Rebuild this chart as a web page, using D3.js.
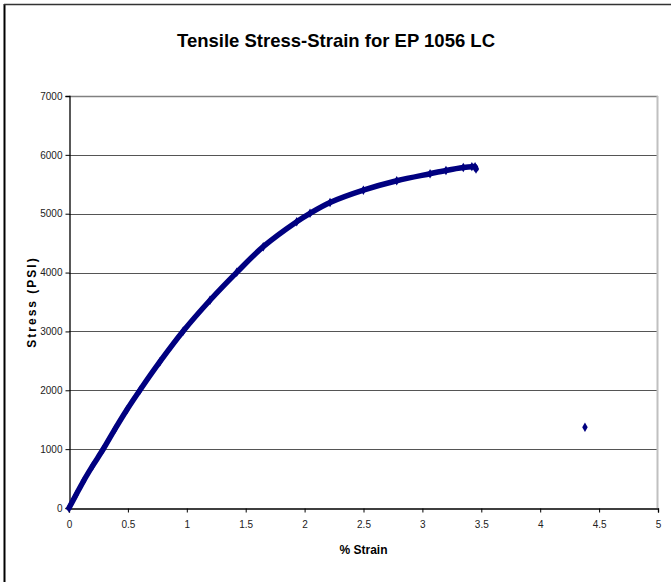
<html>
<head>
<script src="https://d3js.org/d3.v7.min.js"></script>
<style>
  body { margin: 0; background: #fff; }
  svg { display: block; font-family: "Liberation Sans", Arial, sans-serif; }
</style>
</head>
<body>
<svg id="svg" width="671" height="582"></svg>
<script>
// values
var strain = [0, 0.06, 0.122, 0.2, 0.291, 0.39, 0.49, 0.603, 0.772, 0.97, 1.197, 1.424,
              1.649, 1.933, 2.046, 2.216, 2.499, 2.782, 3.065, 3.2, 3.347, 3.42, 3.447, 3.455];
var stress = [0, 225, 454, 715, 1002, 1340, 1665, 2005, 2486, 3007, 3530, 4004,
              4440, 4864, 5006, 5190, 5400, 5560, 5680, 5735, 5785, 5800, 5799, 5760];
var outlierStrain = [4.38];
var outlierStress = [1370];

var xTicks = [0, 0.5, 1, 1.5, 2, 2.5, 3, 3.5, 4, 4.5, 5];
var yTicks = [0, 1000, 2000, 3000, 4000, 5000, 6000, 7000];

var svg = d3.select("svg");
var pLeft = 69, pRight = 658, pTop = 96, pBottom = 508;

var x = d3.scaleLinear().domain([0, 5]).range([pLeft, pRight]);
var y = d3.scaleLinear().domain([0, 7000]).range([pBottom, pTop]);

// chart frame (right and bottom run off the page)
svg.append("line").attr("x1", 4.5).attr("y1", 4).attr("x2", 4.5).attr("y2", 582)
    .attr("stroke", "#000").attr("stroke-width", 2);
svg.append("line").attr("x1", 4).attr("y1", 4.5).attr("x2", 671).attr("y2", 4.5)
    .attr("stroke", "#333").attr("stroke-width", 1.5);

svg.append("text").attr("x", 336).attr("y", 47).attr("text-anchor", "middle")
    .attr("font-size", 18.5).attr("font-weight", "bold")
    .text("Tensile Stress-Strain for EP 1056 LC");

// gridlines
svg.append("g").selectAll("line").data(yTicks.slice(1, -1)).enter().append("line")
    .attr("x1", pLeft).attr("x2", pRight)
    .attr("y1", function(d){ return Math.round(y(d)) + 0.5; })
    .attr("y2", function(d){ return Math.round(y(d)) + 0.5; })
    .attr("stroke", "#555").attr("stroke-width", 1);

// plot area top / right border
svg.append("line").attr("x1", pLeft).attr("x2", pRight).attr("y1", pTop + 0.5).attr("y2", pTop + 0.5)
    .attr("stroke", "#808080").attr("stroke-width", 1.5);
svg.append("line").attr("x1", pRight - 0.5).attr("x2", pRight - 0.5).attr("y1", pTop).attr("y2", pBottom)
    .attr("stroke", "#c0c0c0").attr("stroke-width", 2);

var xAxis = svg.append("g").attr("transform", "translate(0," + (pBottom + 0.5) + ")")
    .call(d3.axisBottom(x).tickValues(xTicks).tickSize(4).tickPadding(8).tickFormat(d3.format("")));
var yAxis = svg.append("g").attr("transform", "translate(" + (pLeft + 0.5) + ",0)")
    .call(d3.axisLeft(y).tickValues(yTicks).tickSize(4).tickPadding(3).tickFormat(d3.format("")));

[xAxis, yAxis].forEach(function(a){
    a.select(".domain").attr("stroke", "#000").attr("stroke-width", 1.3);
    a.selectAll(".tick line").attr("stroke", "#000");
    a.selectAll(".tick text").attr("font-size", 10).attr("fill", "#222")
        .attr("font-family", "'Liberation Sans', Arial, sans-serif");
});

svg.append("text").attr("x", (pLeft + pRight) / 2).attr("y", 554).attr("text-anchor", "middle")
    .attr("font-size", 12).attr("font-weight", "bold").text("% Strain");

svg.append("text").attr("transform", "translate(36," + ((pTop + pBottom) / 2) + ") rotate(-90)")
    .attr("text-anchor", "middle").attr("font-size", 12).attr("font-weight", "bold")
    .attr("letter-spacing", 2).text("Stress (PSI)");

// data band
var pts = strain.map(function(s, i){ return [s, stress[i]]; });
var line = d3.line().x(function(d){ return x(d[0]); }).y(function(d){ return y(d[1]); })
    .curve(d3.curveCatmullRom.alpha(0.5));
svg.append("path").attr("d", line(pts)).attr("fill", "none")
    .attr("stroke", "#000080").attr("stroke-width", 5.5).attr("stroke-linecap", "round");

var diamond = d3.symbol().type(d3.symbolDiamond).size(26);
svg.append("g").selectAll("path").data(pts).enter().append("path")
    .attr("d", diamond)
    .attr("transform", function(d){ return "translate(" + x(d[0]) + "," + y(d[1]) + ")"; })
    .attr("fill", "#000080");

svg.append("g").selectAll("path").data(outlierStrain).enter().append("path")
    .attr("d", diamond)
    .attr("transform", function(d, i){ return "translate(" + x(d) + "," + y(outlierStress[i]) + ")"; })
    .attr("fill", "#000080");
</script>
</body>
</html>
